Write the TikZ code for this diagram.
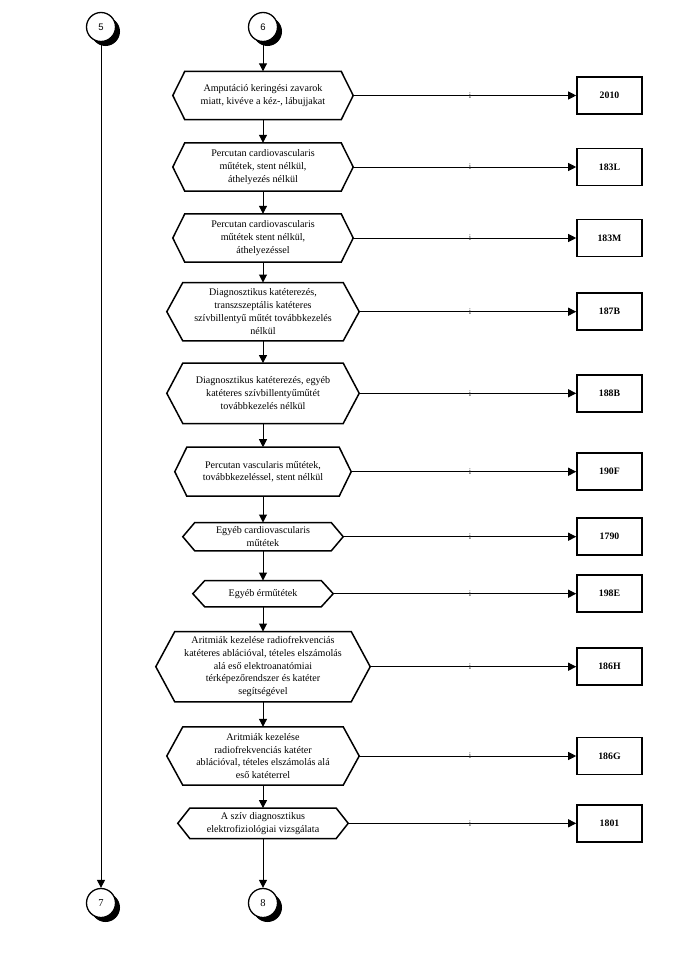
\documentclass[tikz,border=0pt]{standalone}
\usepackage{fontspec}
\setmainfont{Liberation Serif}
\newfontfamily\arialfont{Liberation Sans}
\usetikzlibrary{arrows.meta,calc}
\tikzset{
  hextext/.style={align=center, inner sep=0pt, font=\fontsize{10.1}{12.8}\selectfont},
  hexline/.style={draw=black, line width=1.5pt, line join=miter},
  codebox/.style={draw=black, line width=1.6pt, minimum width=65pt, minimum height=37pt, inner sep=0pt, font=\fontsize{9.8}{11}\selectfont\bfseries},
  flow/.style={draw=black, line width=1pt, -{Triangle[width=8pt,length=8pt]}},
  ilab/.style={font=\fontsize{8.5}{9}\selectfont, text=black!80, inner sep=0pt},
  conn/.style={draw=black, line width=1.3pt, fill=white, circle, minimum size=29pt, inner sep=0pt},
}
\newcommand\hexbox[7]{%
  \node[hextext, minimum width={2*#4pt}, minimum height={2*#5pt}] (#1) at (#2,#3) {#7};
  \draw[hexline] (#1.west) -- ([xshift=#6pt]#1.north west) -- ([xshift=-#6pt]#1.north east) -- (#1.east) -- ([xshift=-#6pt]#1.south east) -- ([xshift=#6pt]#1.south west) -- cycle;}
\newcommand\connector[4]{% name, x, y, text
  \fill[black] (#2+4.5,#3+4.5) circle (14.5pt);
  \node[conn] (#1) at (#2,#3) {#4};}
\begin{document}
\begin{tikzpicture}[x=1pt,y=-1pt]
\useasboundingbox (0,0) rectangle (694,953);
\coordinate (ix) at (470,0);
% connectors
\connector{c5}{101}{27}{\arialfont\fontsize{9.5}{10}\selectfont 5}
\connector{c6}{263}{27}{\arialfont\fontsize{9.5}{10}\selectfont 6}
\connector{c7}{101}{903}{\fontsize{10.5}{11}\selectfont 7}
\connector{c8}{263}{903}{\fontsize{10.5}{11}\selectfont 8}
% hexagons
\hexbox{h1}{263}{95.5}{90}{24}{12}{Amputáció keringési zavarok\\miatt, kivéve a kéz-, lábujjakat}
\hexbox{h2}{263}{167}{90}{24}{12}{Percutan cardiovascularis\\műtétek, stent nélkül,\\áthelyezés nélkül}
\hexbox{h3}{263}{238}{90}{24}{12}{Percutan cardiovascularis\\műtétek stent nélkül,\\áthelyezéssel}
\hexbox{h4}{263}{311.7}{96}{29}{16}{Diagnosztikus katéterezés,\\transzszeptális katéteres\\szívbillentyű műtét továbbkezelés\\nélkül}
\hexbox{h5}{263}{393.3}{96}{30}{16}{Diagnosztikus katéterezés, egyéb\\katéteres szívbillentyűműtét\\továbbkezelés nélkül}
\hexbox{h6}{263}{471.7}{88}{24.3}{12}{Percutan vascularis műtétek,\\továbbkezeléssel, stent nélkül}
\hexbox{h7}{263}{536.7}{80}{14}{12}{Egyéb cardiovascularis\\műtétek}
\hexbox{h8}{263}{593.7}{70}{13}{12}{Egyéb érműtétek}
\hexbox{h9}{263}{666.7}{107}{35}{19}{Aritmiák kezelése radiofrekvenciás\\katéteres ablációval, tételes elszámolás\\alá eső elektroanatómiai\\térképezőrendszer és katéter\\segítségével}
\hexbox{h10}{263}{756}{96}{29}{16}{Aritmiák kezelése\\radiofrekvenciás katéter\\ablációval, tételes elszámolás alá\\eső katéterrel}
\hexbox{h11}{263}{823.3}{85}{15}{12}{A szív diagnosztikus\\elektrofiziológiai vizsgálata}
% code boxes
\node[codebox] (b1) at (609.5,95.5) {2010};
\node[codebox] (b2) at (609.5,167) {183L};
\node[codebox] (b3) at (609.5,238) {183M};
\node[codebox] (b4) at (609.5,311.7) {187B};
\node[codebox] (b5) at (609.5,393.3) {188B};
\node[codebox] (b6) at (609.5,471.7) {190F};
\node[codebox] (b7) at (609.5,536.7) {1790};
\node[codebox] (b8) at (609.5,593.7) {198E};
\node[codebox] (b9) at (609.5,666.7) {186H};
\node[codebox] (b10) at (609.5,756) {186G};
\node[codebox] (b11) at (609.5,823.3) {1801};
% horizontal connectors with labels
\foreach \k in {1,...,11}{
  \draw[flow] (h\k.east) -- (b\k.west);
  \node[ilab] (i\k) at (h\k.east -| ix) {i};
}
% vertical flow
\draw[flow] (c6) -- (h1.north);
\draw[flow] (h1.south) -- (h2.north);
\draw[flow] (h2.south) -- (h3.north);
\draw[flow] (h3.south) -- (h4.north);
\draw[flow] (h4.south) -- (h5.north);
\draw[flow] (h5.south) -- (h6.north);
\draw[flow] (h6.south) -- (h7.north);
\draw[flow] (h7.south) -- (h8.north);
\draw[flow] (h8.south) -- (h9.north);
\draw[flow] (h9.south) -- (h10.north);
\draw[flow] (h10.south) -- (h11.north);
\draw[flow] (h11.south) -- (c8);
\draw[flow] (c5) -- (c7);
\end{tikzpicture}
\end{document}
